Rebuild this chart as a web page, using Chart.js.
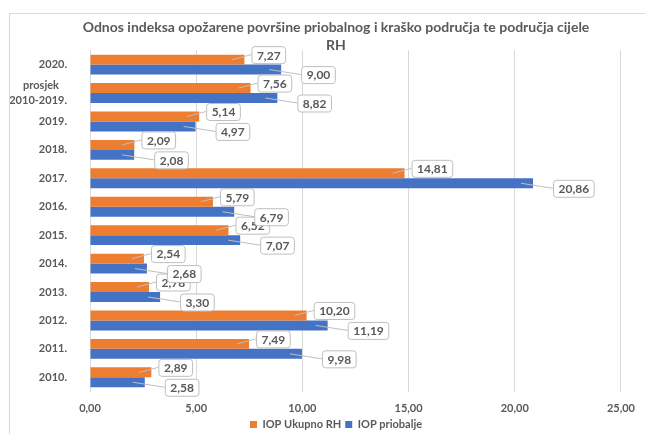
<!DOCTYPE html>
<html>
<head>
<meta charset="utf-8">
<script src="https://cdn.jsdelivr.net/npm/chart.js@4.4.0/dist/chart.umd.min.js"></script>
<style>
  html, body { margin: 0; padding: 0; background: #fff; }
  #wrap { width: 645px; height: 434px; position: relative; }
</style>
</head>
<body>
<div id="wrap"><canvas id="grafikon"></canvas></div>
<script>
const godine = ['2020.', ['prosjek   ', '2010-2019.'], '2019.', '2018.', '2017.', '2016.', '2015.', '2014.', '2013.', '2012.', '2011.', '2010.'];
const iopUkupnoRH = [7.27, 7.56, 5.14, 2.09, 14.81, 5.79, 6.52, 2.54, 2.78, 10.20, 7.49, 2.89];
const iopPriobalje = [9.00, 8.82, 4.97, 2.08, 20.86, 6.79, 7.07, 2.68, 3.30, 11.19, 9.98, 2.58];

const siva = '#595959';
const fmt = v => v.toFixed(2).replace('.', ',');

// okvir oko cijelog grafikona
const okvir = {
    id: 'okvir',
    beforeDraw(chart) {
        const ctx = chart.ctx;
        ctx.save();
        ctx.strokeStyle = '#d9d9d9';
        ctx.lineWidth = 1;
        ctx.strokeRect(9.5, 13.5, 700, 500);
        ctx.restore();
    }
};

// oznake vrijednosti u okvirima s linijom do stupca
const oznake = {
    id: 'oznake',
    afterDatasetsDraw(chart) {
        const ctx = chart.ctx;
        ctx.save();
        ctx.font = 'bold 12px Lato';
        ctx.textBaseline = 'middle';
        ctx.textAlign = 'left';
        chart.data.datasets.forEach((ds, di) => {
            const meta = chart.getDatasetMeta(di);
            meta.data.forEach((bar, i) => {
                const txt = fmt(ds.data[i]);
                const w = ctx.measureText(txt).width + 10;
                const h = 17;
                const bx = bar.x + (di === 0 ? 7 : 20);
                const by = bar.y + (di === 0 ? -5 : 5) - h / 2;
                // linija
                ctx.strokeStyle = '#bfbfbf';
                ctx.lineWidth = 1;
                ctx.beginPath();
                ctx.moveTo(bar.x - 12, bar.y);
                ctx.lineTo(bx, by + h / 2);
                ctx.stroke();
                // okvir
                ctx.fillStyle = '#fff';
                ctx.beginPath();
                ctx.roundRect(bx + 0.5, by + 0.5, w, h, 3);
                ctx.fill();
                ctx.stroke();
                ctx.fillStyle = siva;
                ctx.fillText(txt, bx + 5.5, by + h / 2 + 1);
            });
        });
        ctx.restore();
    }
};

new Chart(document.getElementById('grafikon'), {
    type: 'bar',
    data: {
        labels: godine,
        datasets: [{
            label: 'IOP Ukupno RH',
            data: iopUkupnoRH,
            backgroundColor: '#ED7D31',
            categoryPercentage: 0.7,
            barPercentage: 1.0
        }, {
            label: 'IOP priobalje',
            data: iopPriobalje,
            backgroundColor: '#4472C4',
            categoryPercentage: 0.7,
            barPercentage: 1.0
        }]
    },
    options: {
        indexAxis: 'y',
        responsive: true,
        maintainAspectRatio: false,
        animation: false,
        layout: { padding: { left: 10, right: -17, top: 18, bottom: -6 } },
        scales: {
            x: {
                min: 0,
                max: 25,
                ticks: {
                    stepSize: 5,
                    color: siva,
                    font: { family: 'Lato', size: 11, weight: 'bold' },
                    padding: 10,
                    callback: v => fmt(v)
                },
                grid: { color: '#d9d9d9', drawTicks: false },
                border: { display: false },
                afterFit(axis) { axis.height = 23.5; }
            },
            y: {
                ticks: {
                    autoSkip: false,
                    color: siva,
                    font: { family: 'Lato', size: 11, weight: 'bold', lineHeight: 1.3 },
                    padding: 15
                },
                grid: { display: false },
                border: { color: '#d9d9d9' },
                afterFit(axis) { axis.width = 80; }
            },
            // prazna desna os samo za razmak
            y2: {
                type: 'category',
                position: 'right',
                ticks: { display: false },
                grid: { display: false },
                border: { display: false },
                afterFit(axis) { axis.width = 40; }
            }
        },
        plugins: {
            title: {
                display: true,
                text: ['Odnos indeksa opožarene površine priobalnog i kraško područja te područja cijele', 'RH'],
                color: siva,
                font: { family: 'Lato', size: 14, weight: 'bold', lineHeight: 1.3 },
                padding: { top: 0, bottom: -4 }
            },
            legend: {
                position: 'bottom',
                labels: {
                    color: siva,
                    boxWidth: 7,
                    boxHeight: 7,
                    padding: 4,
                    font: { family: 'Lato', size: 11, weight: 'bold' }
                }
            },
            tooltip: { enabled: false }
        }
    },
    plugins: [okvir, oznake]
});
</script>
</body>
</html>
